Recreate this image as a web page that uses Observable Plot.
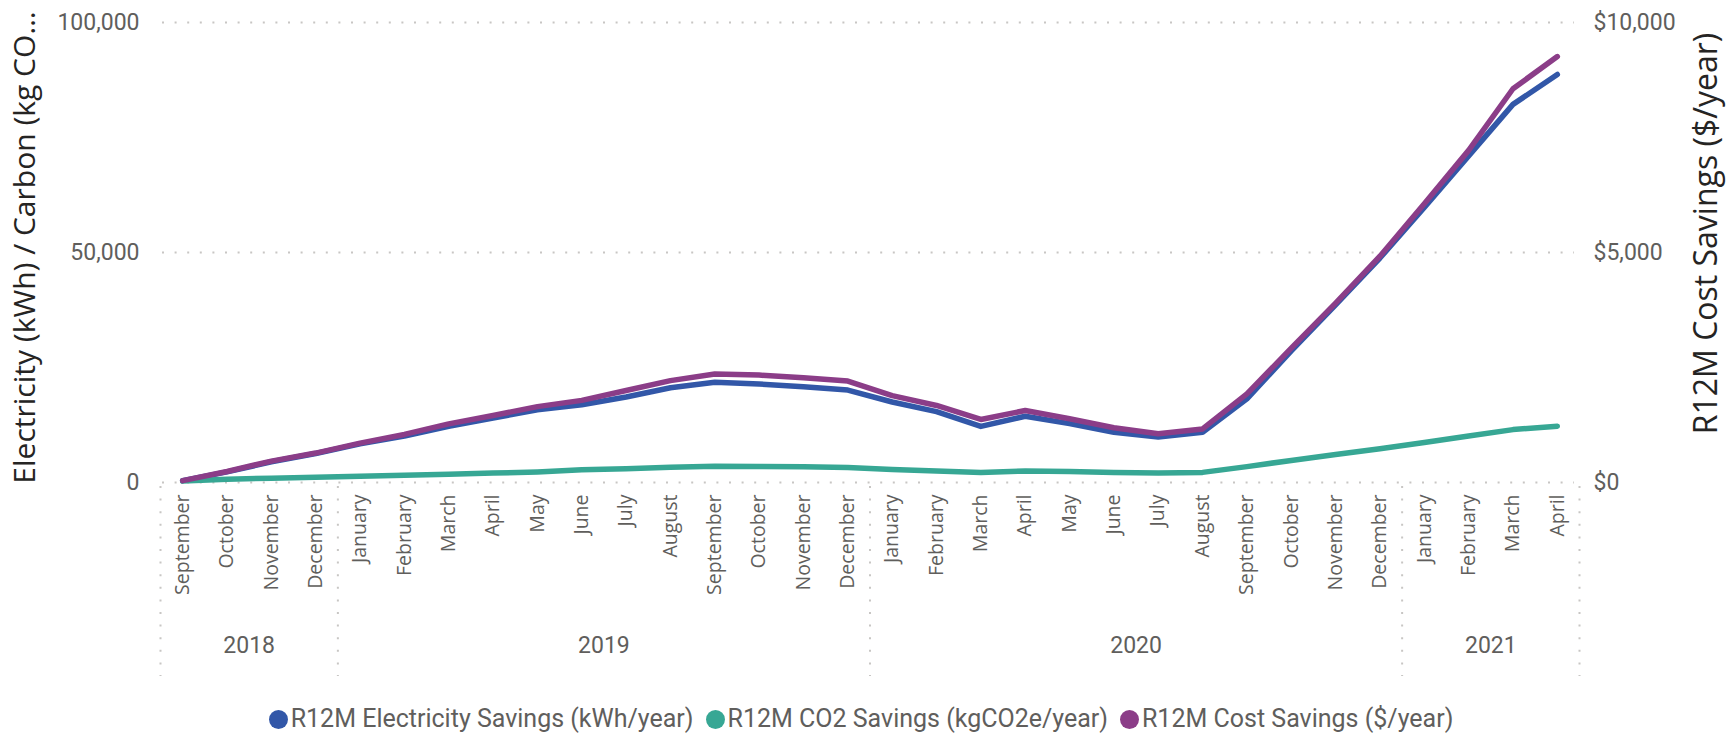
<!DOCTYPE html>
<html>
<head>
<meta charset="utf-8">
<script src="https://cdn.jsdelivr.net/npm/d3@7"></script>
<script src="https://cdn.jsdelivr.net/npm/@observablehq/plot@0.6"></script>
<style>
  body { margin: 0; background: #fff; width: 1732px; height: 734px; overflow: hidden; }
  #chart svg { display: block; overflow: visible; }
  .legend { display: flex; justify-content: center; align-items: center; gap: 12px;
            font-family: Roboto, sans-serif; font-size: 25px; color: #605E5C;
            padding-top: 15px; line-height: 28px; margin-left: -10px; }
  .item { display: flex; align-items: center; gap: 3px; }
  .dot { width: 19px; height: 19px; border-radius: 50%; display: inline-block; }
</style>
</head>
<body>
<div id="chart"></div>
<div class="legend" id="legend"></div>
<script>
// ---- data ----
const monthLabels = [
  "September","October","November","December",
  "January","February","March","April","May","June","July","August","September","October","November","December",
  "January","February","March","April","May","June","July","August","September","October","November","December",
  "January","February","March","April"
];
const yearLabels = ["2018", "2019", "2020", "2021"];
const monthsPerYear = [4, 12, 12, 4];

const electricity = [400, 2300, 4500, 6300, 8400, 10100, 12200, 14000, 15800, 16900, 18600, 20600, 21800, 21400, 20800, 20100,
  17500, 15400, 12200, 14400, 12800, 10900, 9900, 10900, 18200, 28600, 38600, 48800, 59800, 71000, 82200, 88700];
const co2 = [300, 700, 950, 1150, 1380, 1600, 1820, 2040, 2300, 2750, 3000, 3300, 3550, 3500, 3400, 3250,
  2850, 2480, 2150, 2500, 2400, 2200, 2050, 2200, 3450, 4800, 6100, 7350, 8700, 10100, 11500, 12250];
const cost = [40, 240, 465, 640, 855, 1045, 1275, 1455, 1650, 1785, 2000, 2215, 2360, 2335, 2275, 2205,
  1890, 1675, 1370, 1565, 1385, 1190, 1060, 1165, 1925, 2920, 3900, 4920, 6060, 7220, 8560, 9260];

const leftTicks = [0, 50000, 100000];
const rightTicks = [0, 5000, 10000];
const seriesNames = ["R12M Electricity Savings (kWh/year)", "R12M CO2 Savings (kgCO2e/year)", "R12M Cost Savings ($/year)"];
const seriesColors = ["#3257A8", "#37A794", "#8B3D88"];
const leftTitle = "Electricity (kWh) / Carbon (kg CO…";
const rightTitle = "R12M Cost Savings ($/year)";

// ---- build ----
const costScale = leftTicks[leftTicks.length - 1] / rightTicks[rightTicks.length - 1];
const seriesValues = [electricity, co2, cost];
const seriesScale = [1, 1, costScale];
const rows = [];
seriesValues.forEach((vals, s) => vals.forEach((v, i) => rows.push({ i, v: v * seriesScale[s], series: seriesNames[s] })));

const n = monthLabels.length;
const boundaries = [-0.5];
const yearCenters = [];
let acc = 0;
monthsPerYear.forEach((m, k) => {
  yearCenters.push({ x: acc + (m - 1) / 2, label: yearLabels[k] });
  acc += m;
  boundaries.push(acc - 0.5);
});

const grey = "#605E5C";
const dotted = { stroke: "#C8C6C4", strokeWidth: 2, strokeDasharray: "2,10.6" };

const chart = Plot.plot({
  width: 1732,
  height: 690,
  marginLeft: 160,
  marginRight: 153,
  marginTop: 22,
  marginBottom: 208,
  style: { overflow: "visible", background: "white" },
  x: { domain: [-0.5, n - 0.5] },
  y: { domain: [0, leftTicks[leftTicks.length - 1]] },
  color: { domain: seriesNames, range: seriesColors },
  marks: [
    Plot.ruleY(leftTicks, { ...dotted, insetLeft: 2, insetRight: 5 }),
    Plot.ruleX(boundaries, { x: d => d, ...dotted, insetTop: 464, insetBottom: -194 }),
    Plot.line(rows, { x: "i", y: "v", z: "series", stroke: "series", strokeWidth: 5.5,
      strokeLinejoin: "round", strokeLinecap: "round" }),
    Plot.axisX({ ticks: d3.range(n), tickFormat: i => monthLabels[i], tickRotate: -90, tickSize: 0,
      tickPadding: 12, fontSize: 19.5, fontFamily: "Open Sans", color: grey, label: null }),
    Plot.axisY({ anchor: "left", ticks: leftTicks, tickFormat: d3.format(","), tickSize: 0, tickPadding: 21,
      fontSize: 23, fontFamily: "Roboto", color: grey, label: null }),
    Plot.axisY({ anchor: "right", ticks: leftTicks, tickFormat: d => "$" + d3.format(",")(d / costScale),
      tickSize: 0, tickPadding: 14, fontSize: 23, fontFamily: "Roboto", color: grey, label: null }),
    Plot.text(yearCenters, { x: "x", text: "label", frameAnchor: "bottom", dy: 170, fontSize: 23,
      fontFamily: "Roboto", fill: grey }),
    Plot.text([leftTitle], { text: d => d, frameAnchor: "left", textAnchor: "middle", rotate: -90, dx: -135, dy: -5,
      fontSize: 30, fontFamily: "Open Sans", fill: "#252423" }),
    Plot.text([rightTitle], { text: d => d, frameAnchor: "right", textAnchor: "middle", rotate: -90, dx: 127, dy: -19,
      fontSize: 32, fontFamily: "Open Sans", fill: "#252423" })
  ]
});
document.getElementById("chart").append(chart);

const legend = document.getElementById("legend");
seriesNames.forEach((name, k) => {
  const item = document.createElement("div");
  item.className = "item";
  const dot = document.createElement("span");
  dot.className = "dot";
  dot.style.background = seriesColors[k];
  const label = document.createElement("span");
  label.textContent = name;
  item.append(dot, label);
  legend.append(item);
});
</script>
</body>
</html>
